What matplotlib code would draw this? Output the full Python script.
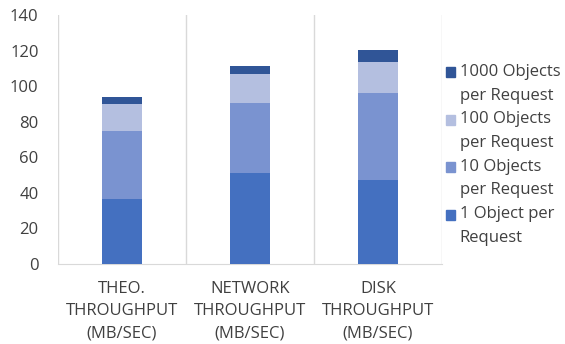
import numpy as np
import matplotlib.pyplot as plt
import matplotlib.patches as mpatches
from matplotlib.legend_handler import HandlerPatch

plt.rcParams['font.family'] = ['Open Sans', 'DejaVu Sans']

# throughput categories and the stacked per-request series (MB/sec)
categories = ['THEO.\nTHROUGHPUT\n(MB/SEC)', 'NETWORK\nTHROUGHPUT\n(MB/SEC)', 'DISK\nTHROUGHPUT\n(MB/SEC)']
series_names = ['1 Object per\nRequest', '10 Objects\nper Request', '100 Objects\nper Request', '1000 Objects\nper Request']
obj_1 = [36.5, 51.0, 47.2]
obj_10 = [38.0, 39.5, 48.9]
obj_100 = [15.5, 16.3, 17.3]
obj_1000 = [4.0, 4.7, 6.9]
colors = ['#4470c0', '#7a93d0', '#b4bfe0', '#305597']


def first_line_square(legend, orig_handle, xdescent, ydescent, width, height, fontsize):
    # keep the legend square level with the first text line
    return mpatches.Rectangle((-xdescent, -ydescent + 8.3), width, height)


fig = plt.figure(figsize=(5.65, 3.44), dpi=100)
ax = fig.add_axes([0.1027, 0.2326, 0.6796, 0.7238])

x = np.arange(len(categories))
bottom = np.zeros(len(categories))
for vals, name, c in zip([obj_1, obj_10, obj_100, obj_1000], series_names, colors):
    ax.bar(x, vals, width=0.31, bottom=bottom, color=c, label=name, zorder=3)
    bottom += np.array(vals)

# category separators
for xv in np.arange(-0.5, len(categories), 1.0):
    ax.axvline(xv, color='#d9d9d9', lw=1, zorder=1)

ax.set_xlim(-0.5, len(categories) - 0.5)
ax.set_ylim(0, 140)
ax.set_yticks(range(0, 141, 20))
ax.set_xticks(x)
ax.set_xticklabels(categories, fontsize=12, color='#404040', linespacing=1.5)
ax.tick_params(axis='y', labelsize=12, colors='#404040', length=0, pad=14)
ax.tick_params(axis='x', length=0, pad=12.5)
for s in ['top', 'right', 'left']:
    ax.spines[s].set_visible(False)
ax.spines['bottom'].set_color('#d9d9d9')

handles = [mpatches.Patch(color=c) for c in colors]
leg = fig.legend(handles[::-1], series_names[::-1], loc='center left',
                 bbox_to_anchor=(0.775, 0.55), frameon=False, fontsize=12,
                 handlelength=0.55, handleheight=0.55, handletextpad=0.25,
                 labelspacing=0.46, labelcolor='#404040', borderpad=0,
                 handler_map={mpatches.Patch: HandlerPatch(patch_func=first_line_square)})
for t in leg.get_texts():
    t.set_linespacing(1.65)

fig.savefig('out.png', dpi=100)
